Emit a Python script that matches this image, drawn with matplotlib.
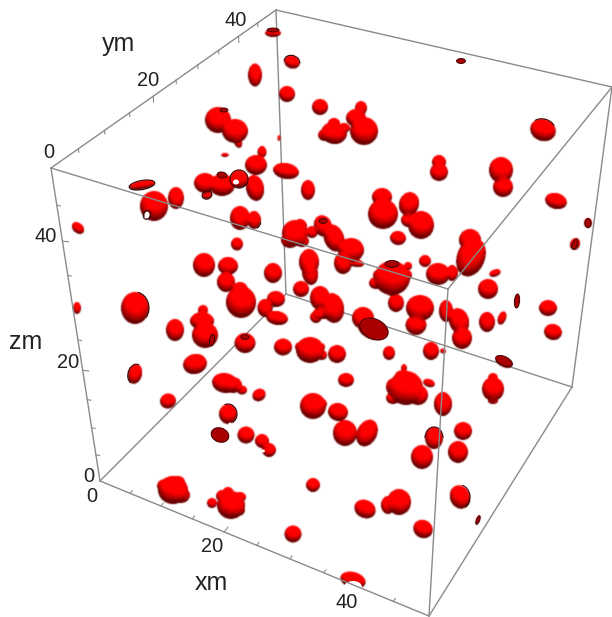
import numpy as np
import matplotlib
matplotlib.use("Agg")
import matplotlib.pyplot as plt
from matplotlib.patches import Ellipse, Arc

plt.rcParams['font.family'] = ['Liberation Sans', 'DejaVu Sans']

# ------------------------------------------
# box corners as seen in the picture (pixels)
# ------------------------------------------
A = np.array([51, 168])    # xm=0,  ym=0,  zm=top
B = np.array([276, 10])    # xm=0,  ym=top, zm=top
C = np.array([612, 87])
D = np.array([448, 289])
E = np.array([100, 481])   # origin
F = np.array([429, 616])
G = np.array([572, 387])
H = np.array([286, 294])

axis_max = 50
tick_vals = [5, 10, 15, 20, 25, 30, 35, 40, 45]
major_vals = [20, 40]

# ------------------------------------------
# blobs: centre, radii, tilt
# ------------------------------------------
blob_x = [273, 292, 255, 287, 218, 235, 238, 279, 225, 262, 256, 286, 222, 205, 255, 239, 207,
          142, 154, 176, 240, 254, 78, 237, 204, 228, 226, 273, 240, 241, 276, 265, 277, 310, 301,
          320, 333, 316, 295, 290, 308, 77, 135, 320, 334, 364, 356, 361, 543, 439, 439, 501, 503,
          556, 588, 575, 382, 383, 409, 408, 421, 398, 323, 334, 351, 343, 356, 309, 425, 438, 452,
          471, 470, 392, 378, 408, 495, 488, 517, 548, 396, 420, 416, 446, 175, 205, 202, 203, 195,
          135, 168, 245, 283, 225, 233, 242, 259, 228, 220, 246, 262, 269, 173, 181, 231, 238, 293,
          310, 322, 300, 363, 372, 459, 462, 487, 502, 553, 431, 443, 504, 337, 389, 346, 406, 418,
          394, 429, 404, 443, 493, 493, 493, 313, 320, 338, 345, 367, 434, 463, 422, 458, 313, 365,
          388, 399, 423, 460, 478, 353, 323, 403,
          334, 325, 344, 300, 302, 312, 222, 212, 178, 165, 228, 240, 393, 378, 408, 306, 321, 392, 376]
blob_y = [33, 62, 75, 94, 120, 131, 142, 138, 155, 152, 165, 171, 185, 183, 188, 179, 195,
          185, 206, 198, 218, 220, 228, 244, 265, 266, 282, 273, 290, 302, 299, 308, 318, 273, 289,
          298, 308, 317, 233, 240, 190, 308, 308, 107, 133, 131, 118, 108, 130, 162, 172, 170, 187,
          201, 223, 244, 197, 214, 204, 220, 225, 238, 226, 238, 250, 263, 263, 262, 261, 274, 273,
          257, 240, 278, 275, 275, 273, 289, 301, 308, 303, 308, 325, 311, 330, 335, 321, 310, 364,
          374, 401, 343, 347, 383, 385, 390, 395, 414, 435, 435, 441, 450, 490, 495, 505, 510, 534,
          350, 355, 347, 318, 329, 321, 338, 322, 318, 332, 351, 351, 362, 354, 353, 380, 388, 395,
          387, 383, 368, 404, 389, 378, 401, 406, 404, 412, 433, 433, 438, 431, 457, 452, 485, 509,
          505, 502, 529, 497, 520, 580, 313, 378,
          123, 135, 128, 226, 241, 232, 496, 503, 482, 486, 493, 497, 398, 275, 266, 345, 347, 290, 283]
blob_rx = [8, 8, 7, 8, 13, 13, 4, 1.5, 4, 4.5, 11, 13, 13, 11, 9, 9, 5,
           13, 14, 8, 10, 7, 7, 6, 11, 10, 9, 9, 8, 15, 9, 7.5, 11, 8, 8,
           10, 11, 6, 13, 9, 7, 4, 14, 8, 13, 14, 10, 6, 13, 7, 9, 12, 10,
           11, 4, 5, 10, 15, 10, 7, 13, 8, 9, 10, 13, 9, 8, 10, 6, 12, 6,
           14, 11, 18, 5, 4, 6, 10, 2.5, 9, 8, 14, 10.5, 7, 9, 13, 12, 5, 12,
           7, 8, 10.5, 9, 13, 9, 5, 7, 9, 9, 8.5, 7, 7, 15, 9, 14, 7, 8.5,
           14, 5, 5, 11, 15, 10, 10, 8, 4, 9, 8, 3, 9, 9, 6, 8, 17, 10,
           8, 6, 3, 9, 11, 5, 5, 13, 7, 10, 12, 10, 9, 9, 11, 10, 7, 11,
           7, 12, 10, 10, 2, 13, 10, 9,
           6, 7, 6, 7, 7, 6, 6, 5, 7, 8, 6, 6, 7, 5, 4, 5, 4, 7, 7]
blob_ry = [4, 6.5, 11.5, 8, 13, 12, 6, 3, 2, 6, 10, 8, 11, 10, 13, 9, 4,
           4.5, 15, 11, 12, 9, 5, 6.5, 12, 9, 10, 10, 8, 16, 8, 9, 7, 12, 8,
           12, 15, 6, 13, 8, 10, 6, 16, 8, 11, 14, 9, 7, 11, 7, 9, 13, 10,
           8, 5, 6, 9, 15, 12, 7, 14, 7, 11, 14, 12, 11, 4, 13, 6, 11, 8,
           20, 11, 17, 5, 5, 3.5, 10, 7, 8, 9, 13, 10, 11, 11, 13, 9, 5, 10,
           10, 7.5, 10, 8.5, 10, 8, 4.5, 6, 10, 7, 8.5, 7, 7, 14, 8, 14, 6, 8.5,
           13, 5, 5, 11, 10, 13, 11, 10, 7, 8, 9, 2.5, 5, 9, 7, 7, 17, 10,
           9, 4, 4, 12, 12, 5, 3, 13, 6, 9, 13, 14, 11, 9, 12, 11, 7, 9,
           9, 13, 9, 12, 5, 8, 6, 8,
           5, 6, 5, 7, 6, 6, 6, 5, 6, 7, 6, 5, 6, 5, 4, 5, 4, 6, 6]
blob_ang = [0, 20, 0, 0, 0, 0, -20, 0, 0, 0, 0, 10, 0, 0, -10, 0, -20,
            -10, 0, 0, 0, 0, 40, 0, 0, 0, 0, 0, 0, 0, 10, 0, 10, -10, 0,
            0, -10, 0, 0, 0, 0, 0, 0, 0, 10, 0, 0, 0, 20, 0, 0, 0, 0,
            15, 0, 20, 0, 0, 15, 0, 0, 10, -20, -20, 0, 0, 10, 0, 0, 0, 0,
            20, 20, 0, 0, 0, -20, 0, 5, 0, 0, 0, 0, 0, 0, 0, 0, 0, -15,
            15, -20, 0, 0, 10, 0, 0, -35, 0, 20, 0, 30, 0, 0, 0, 0, 0, 0,
            0, 0, 0, 0, 25, -15, 0, 0, 20, 15, 0, 15, 25, 0, 0, 0, 0, 0,
            0, 20, 0, 0, 0, 0, 0, 0, 0, 15, 0, 25, 0, 0, 0, 0, 0, 25,
            0, 0, 30, -20, 20, 15, 0, 0,
            0, 0, 0, 0, 0, 0, 0, 0, 0, 0, 0, 0, 0, 0, 0, 0, 0, 0, 0]

# cut faces of blobs at the box walls, filled dark
cap_x = [273, 224, 461, 222, 374, 392, 245, 504, 220, 212, 517, 588, 575, 478, 323]
cap_y = [30, 110, 61, 175, 329, 264, 337, 361, 435, 340, 301, 223, 244, 520, 221]
cap_rx = [6, 4, 4.5, 5, 15, 7, 4, 9, 9, 2.5, 2.5, 3, 2.5, 1.5, 4]
cap_ry = [2, 2, 2.5, 3, 10, 3.5, 2.5, 4.5, 7, 6, 7, 4.5, 5.5, 4.5, 2.5]
cap_ang = [0, 0, 0, 10, 25, 0, 0, 25, 20, 10, 5, 0, 20, 20, 0]

# black rims where a blob is cut, only part of the way round
rim_x = [292, 239, 135, 228, 434, 460, 254, 147, 142, 207, 543, 135]
rim_y = [62, 179, 374, 414, 438, 497, 220, 215, 185, 195, 130, 308]
rim_rx = [8, 9, 7, 9, 9, 10, 7, 3.5, 13, 5, 13, 14]
rim_ry = [6.5, 9, 10, 10, 11, 12, 9, 4.5, 4.5, 4, 11, 16]
rim_ang = [20, 0, 15, 0, 0, 0, 0, 30, -10, -20, 20, 0]
rim_from = [170, 0, 100, 250, 180, 280, 20, 0, 0, 0, 210, 280]
rim_to = [350, 360, 280, 420, 360, 420, 70, 360, 360, 360, 320, 400]

# holes that let the white background through
hole_x = [236, 353, 263, 230, 147]
hole_y = [182, 587, 451, 424, 215]
hole_rx = [3, 9, 2, 1.5, 2.5]
hole_ry = [2.5, 6, 1.5, 1.5, 3.5]


def along(p0, p1, val, w):
    """Point at axis value val on a box edge, w is the perspective weight of p1."""
    t = val / axis_max
    return (p0 * (1 - t) + p1 * t * w) / ((1 - t) + t * w)


def blob_image(width, height, ss=2, beta=0.35):
    """Merged, lit ellipsoids as an RGBA array."""
    ny, nx = height * ss, width * ss
    soft = np.zeros((ny, nx))
    for x, y, rx, ry, ang in zip(blob_x, blob_y, blob_rx, blob_ry, blob_ang):
        r = max(rx, ry)
        x0, x1 = max(int((x - r - 1) * ss), 0), min(int((x + r + 1) * ss), nx)
        y0, y1 = max(int((y - r - 1) * ss), 0), min(int((y + r + 1) * ss), ny)
        if x1 <= x0 or y1 <= y0:
            continue
        yy, xx = np.mgrid[y0:y1, x0:x1]
        dx = (xx + 0.5) / ss - x
        dy = (yy + 0.5) / ss - y
        c, s = np.cos(np.radians(ang)), np.sin(np.radians(ang))
        u = (dx * c + dy * s) / rx
        v = (-dx * s + dy * c) / ry
        d2 = u**2 + v**2
        inside = d2 < 1
        z = np.sqrt(rx * ry) * np.sqrt(np.clip(1 - d2, 0, 1))
        soft[y0:y1, x0:x1] += np.where(inside, np.exp(beta * z), 0)

    mask = soft > 0
    z = np.where(mask, np.log(np.where(mask, soft, 1)) / beta, 0)
    gy, gx = np.gradient(z, 1 / ss)
    norm = np.sqrt(gx**2 + gy**2 + 1)
    light = np.array([0.1, -0.6, 0.8])
    light = light / np.linalg.norm(light)
    lit = np.clip((-gx * light[0] - gy * light[1] + light[2]) / norm, 0, 1)
    red = np.clip(0.42 + 0.85 * lit, 0, 1)

    # average down to picture size, with a little blur like the original
    a = mask.astype(float).reshape(height, ss, width, ss).mean(axis=(1, 3))
    p = (red * mask).reshape(height, ss, width, ss).mean(axis=(1, 3))
    kernel = np.array([0.2, 0.6, 0.2])
    for arr in (a, p):
        arr[:] = np.apply_along_axis(lambda m: np.convolve(m, kernel, mode='same'), 0, arr)
        arr[:] = np.apply_along_axis(lambda m: np.convolve(m, kernel, mode='same'), 1, arr)
    rgba = np.zeros((height, width, 4))
    rgba[..., 0] = np.where(a > 0, p / np.maximum(a, 1e-6), 0)
    rgba[..., 3] = a
    return rgba


fig = plt.figure(figsize=(6.12, 6.17), dpi=100)
ax = fig.add_axes([0, 0, 1, 1])

edge_color = '#8a8a8a'

# back edges go under the blobs, front edges over them
for p, q in [(B, H), (E, H), (H, G), (A, B), (B, C)]:
    ax.plot([p[0], q[0]], [p[1], q[1]], color=edge_color, lw=1.0, zorder=1)
for p, q in [(A, D), (D, C), (D, F), (A, E), (E, F), (F, G), (G, C)]:
    ax.plot([p[0], q[0]], [p[1], q[1]], color=edge_color, lw=1.0, zorder=6)

# ticks on the three labelled edges
for val in tick_vals:
    ticklen = 6 if val in major_vals else 3.5
    px, py = along(A, B, val, 1.25)      # ym
    ax.plot([px, px + 0.3], [py, py + ticklen], color=edge_color, lw=0.8, zorder=1)
    px, py = along(E, A, val, 0.82)      # zm
    ax.plot([px, px + ticklen], [py, py + 0.6], color=edge_color, lw=0.8, zorder=1)
    px, py = along(E, F, val, 0.91)      # xm
    ax.plot([px, px + ticklen * 0.6], [py, py - ticklen * 0.8], color=edge_color, lw=0.8, zorder=1)

ax.imshow(blob_image(612, 617), extent=(0, 612, 617, 0), interpolation='nearest', zorder=3)
ax.set_xlim(0, 612)
ax.set_ylim(617, 0)
ax.set_aspect('auto')
ax.axis('off')

for x, y, rx, ry in zip(hole_x, hole_y, hole_rx, hole_ry):
    ax.add_patch(Ellipse((x, y), 2 * rx, 2 * ry, fc='white', ec='none', zorder=4))

for x, y, rx, ry, ang in zip(cap_x, cap_y, cap_rx, cap_ry, cap_ang):
    ax.add_patch(Ellipse((x, y), 2 * rx, 2 * ry, angle=ang, fc='#a80000', ec='#300000', lw=0.6, zorder=5))

for x, y, rx, ry, ang, t0, t1 in zip(rim_x, rim_y, rim_rx, rim_ry, rim_ang, rim_from, rim_to):
    ax.add_patch(Arc((x, y), 2 * rx, 2 * ry, angle=ang, theta1=t0, theta2=t1, ec='#200000', lw=0.7, zorder=5))

# tick labels
num_size = 14.4
for txt, x, y in [('0', 49, 152), ('20', 148, 81), ('40', 236, 20),
                  ('40', 46, 236), ('20', 68, 363), ('0', 89, 476),
                  ('0', 92, 496), ('20', 212, 547), ('40', 347, 603)]:
    ax.text(x, y, txt, fontsize=num_size, color='#222222', ha='center', va='center')

# axis labels
for txt, x, y in [('ym', 118, 44), ('zm', 26, 342), ('xm', 211, 583)]:
    ax.text(x, y, txt, fontsize=18, color='#222222', ha='center', va='center')

fig.savefig('out.png', dpi=100)
